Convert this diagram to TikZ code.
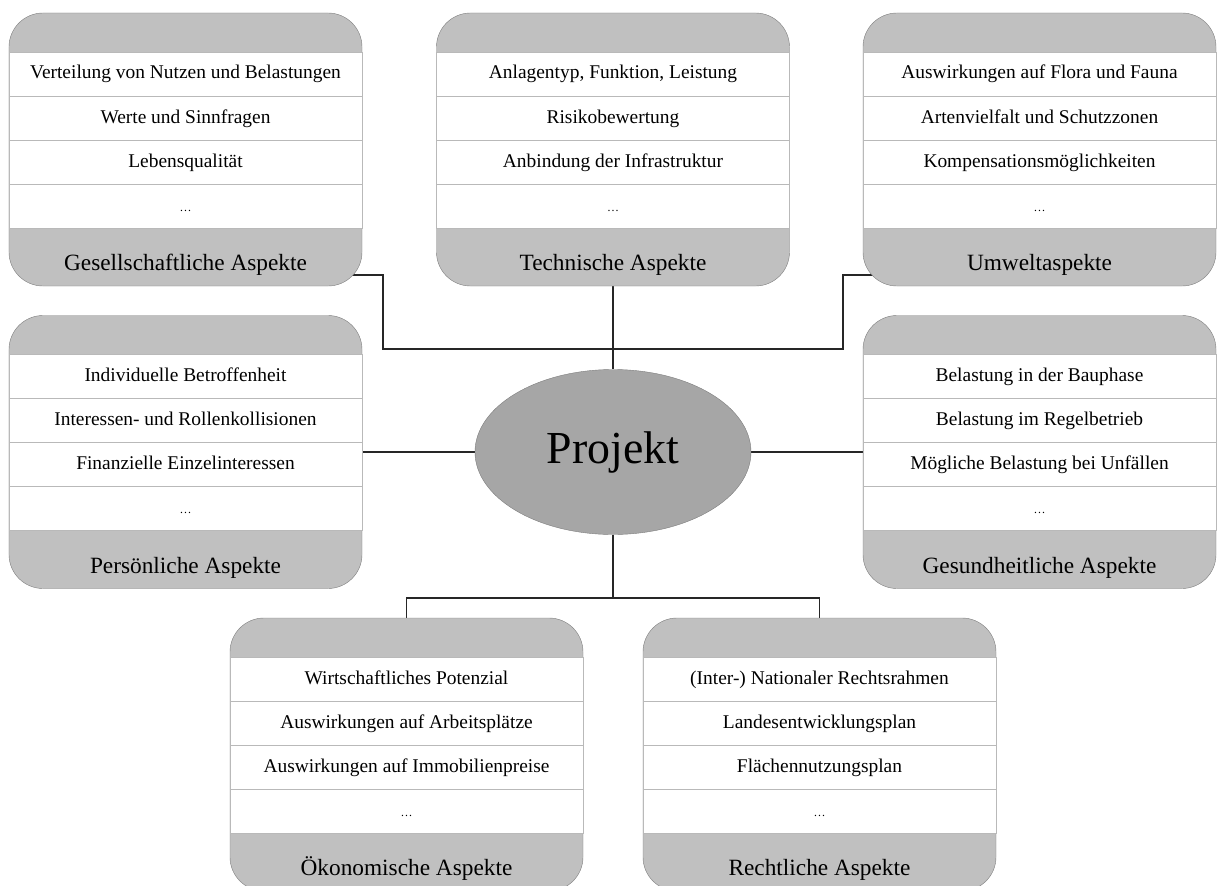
\documentclass[tikz,border=0pt]{standalone}
\usepackage{fontspec}
\setmainfont{Liberation Serif}
\usepackage{xcolor}
\usepackage{tikz}
\usetikzlibrary{positioning, shapes.geometric, backgrounds}

\definecolor{panelgray}{RGB}{192,192,192}
\definecolor{hubgray}{RGB}{166,166,166}
\definecolor{framegray}{RGB}{125,125,125}
\definecolor{rowline}{RGB}{185,185,185}

\newcommand{\rowfont}{\fontsize{19.5}{23}\selectfont}
\newcommand{\capfont}{\fontsize{23.4}{27}\selectfont}
\newcommand{\dotfont}{\fontsize{12}{14}\selectfont}

% one aspect panel: name, position, title, three entries
\newcommand{\aspectbox}[6]{%
    \node[panel] (#1) at (#2) {};
    \node[row, below=39bp of #1.north] (#1-1) {#4};
    \node[row, below=0pt of #1-1] (#1-2) {#5};
    \node[row, below=0pt of #1-2] (#1-3) {#6};
    \node[row, below=0pt of #1-3, font=\dotfont] (#1-4) {\dots};
    \node[caption, anchor=base] (#1-t) at ([yshift=15.5bp]#1.south) {#3};
}

\begin{document}
\begin{tikzpicture}[x=1bp, y=-1bp,
        panel/.style={draw=framegray, fill=panelgray, rectangle, rounded corners=34bp, minimum width=353bp, minimum height=273bp, inner sep=0pt, outer sep=0pt},
        row/.style={draw=rowline, fill=white, rectangle, minimum width=353bp, minimum height=44bp, inner sep=0pt, outer sep=0pt, text height=13bp, text depth=3bp, font=\rowfont},
        caption/.style={inner sep=0pt, font=\capfont},
        hub/.style={draw=framegray, fill=hubgray, ellipse, minimum width=276bp, minimum height=165bp, inner sep=0pt, font=\fontsize{46}{50}\selectfont},
        link/.style={draw=black!85, line width=1.2bp}
    ]
    \useasboundingbox (0,0) rectangle (1217,886);

    % --- Centre ---
    \node[hub] (proj) at (613,452) {Projekt};

    % --- Top row ---
    \aspectbox{ges}{185.5,149.5}{Gesellschaftliche Aspekte}{Verteilung von Nutzen und Belastungen}{Werte und Sinnfragen}{Lebensqualität}
    \aspectbox{tech}{613,149.5}{Technische Aspekte}{Anlagentyp, Funktion, Leistung}{Risikobewertung}{Anbindung der Infrastruktur}
    \aspectbox{umw}{1039.5,149.5}{Umweltaspekte}{Auswirkungen auf Flora und Fauna}{Artenvielfalt und Schutzzonen}{Kompensationsmöglichkeiten}

    % --- Middle row ---
    \aspectbox{pers}{185.5,452}{Persönliche Aspekte}{Individuelle Betroffenheit}{Interessen- und Rollenkollisionen}{Finanzielle Einzelinteressen}
    \aspectbox{gsd}{1039.5,452}{Gesundheitliche Aspekte}{Belastung in der Bauphase}{Belastung im Regelbetrieb}{Mögliche Belastung bei Unfällen}

    % --- Bottom row ---
    \aspectbox{oek}{406.5,754.5}{Ökonomische Aspekte}{Wirtschaftliches Potenzial}{Auswirkungen auf Arbeitsplätze}{Auswirkungen auf Immobilienpreise}
    \aspectbox{recht}{819.5,754.5}{Rechtliche Aspekte}{(Inter-) Nationaler Rechtsrahmen}{Landesentwicklungsplan}{Flächennutzungsplan}

    % bend points of the connectors
    \coordinate (bendl) at (383,349);
    \coordinate (bendr) at (843,349);
    \coordinate (hubbot) at (613,598);

    % --- Connectors (behind the panels) ---
    \begin{scope}[on background layer]
        \draw[link] ([shift={(-20bp,11bp)}]ges.south east) -| (bendl) -- (bendr) |- ([shift={(20bp,11bp)}]umw.south west);
        \draw[link] (tech) -- (proj);
        \draw[link] (pers) -- (proj);
        \draw[link] (proj) -- (gsd);
        \draw[link] (proj) -- (hubbot);
        \draw[link] (oek) |- (hubbot) -| (recht);
    \end{scope}

\end{tikzpicture}
\end{document}
